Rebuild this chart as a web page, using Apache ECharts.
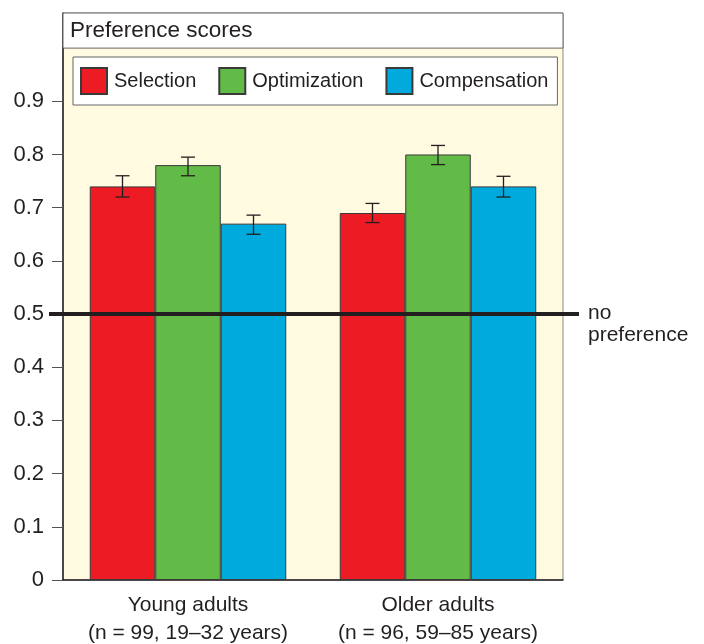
<!DOCTYPE html>
<html>
<head>
<meta charset="utf-8">
<script src="https://cdn.jsdelivr.net/npm/echarts@6/dist/echarts.min.js"></script>
<style>
  html, body { margin: 0; padding: 0; background: #fff; }
  #chart { width: 704px; height: 644px; }
</style>
</head>
<body>
<div id="chart"></div>
<script>
const categories = ['Young adults\n(n = 99, 19–32 years)', 'Older adults\n(n = 96, 59–85 years)'];
const seriesNames = ['Selection', 'Optimization', 'Compensation'];
const colors = ['#ed1c24', '#62bb46', '#00aadc'];
const selection = [0.74, 0.69];
const optimization = [0.78, 0.80];
const compensation = [0.67, 0.74];
// error bars: [low, high] per category
const selectionErr = [[0.72, 0.76], [0.672, 0.708]];
const optimizationErr = [[0.76, 0.795], [0.781, 0.817]];
const compensationErr = [[0.65, 0.686], [0.72, 0.759]];
const yTicks = [0, 0.1, 0.2, 0.3, 0.4, 0.5, 0.6, 0.7, 0.8, 0.9];
const yMax = 1.066;
const headerBottom = 1.0;
const noPreference = 0.5;

const font = 'Liberation Sans, Arial, sans-serif';
const gapPct = 0.214;

let chart = echarts.init(document.getElementById('chart'));

const allValues = [selection, optimization, compensation];
const allErr = [selectionErr, optimizationErr, compensationErr];
let errData = [];
allErr.forEach((arr, s) => {
    arr.forEach((e, c) => errData.push([c, s, e[0], e[1]]));
});

let barSeries = seriesNames.map((name, i) => ({
    name: name,
    type: 'bar',
    data: allValues[i],
    barGap: 0,
    barCategoryGap: (gapPct * 100) + '%',
    itemStyle: { color: colors[i], borderColor: '#3a3a3a', borderWidth: 1 }
}));

// header band "Preference scores"
barSeries[0].markArea = {
    silent: true,
    itemStyle: { color: '#fff', borderColor: '#666', borderWidth: 1 },
    data: [[{ yAxis: headerBottom }, { yAxis: yMax }]]
};

let option = {
    animation: false,
    textStyle: { fontFamily: font },
    title: {
        text: 'Preference scores',
        left: 70,
        top: 19,
        padding: 0,
        textStyle: { fontFamily: font, fontSize: 22.5, fontWeight: 'normal', color: '#231f20' }
    },
    legend: {
        data: seriesNames,
        left: 73,
        top: 57,
        padding: [10, 9, 10, 7],
        itemWidth: 26,
        itemHeight: 26,
        itemGap: 22,
        backgroundColor: '#fff',
        borderColor: '#666',
        borderWidth: 1,
        icon: 'rect',
        textStyle: { fontFamily: font, fontSize: 20, color: '#231f20', padding: [0, 0, 0, 2] }
    },
    grid: {
        left: 63,
        right: 141,
        top: 13,
        bottom: 64,
        outerBoundsMode: 'none',
        containLabel: false,
        show: true,
        backgroundColor: '#fffae0',
        borderColor: '#888',
        borderWidth: 1
    },
    xAxis: {
        type: 'category',
        data: categories,
        axisLine: { lineStyle: { color: '#231f20', width: 1.5 } },
        axisTick: { length: 12, lineStyle: { color: '#555' } },
        axisLabel: {
            interval: 0,
            margin: 11,
            fontFamily: font,
            fontSize: 21,
            lineHeight: 28,
            color: '#231f20'
        }
    },
    yAxis: {
        type: 'value',
        min: 0,
        max: yMax,
        interval: 0.1,
        splitLine: { show: false },
        axisLine: { show: true, lineStyle: { color: '#231f20', width: 1.5 } },
        axisTick: { show: true, length: 11, customValues: yTicks, lineStyle: { color: '#555' } },
        axisLabel: {
            customValues: yTicks,
            margin: 19,
            fontFamily: font,
            fontSize: 22,
            color: '#231f20',
            formatter: v => (v === 0 ? '0' : v.toFixed(1))
        }
    },
    series: barSeries.concat([{
        type: 'custom',
        name: 'err',
        clip: false,
        z: 5,
        data: errData,
        encode: { x: 0, y: [2, 3] },
        renderItem: (params, api) => {
            const c = api.value(0);
            const s = api.value(1);
            const band = api.size([1, 0])[0];
            const bw = band * (1 - gapPct) / 3;
            const hi = api.coord([c, api.value(3)]);
            const lo = api.coord([c, api.value(2)]);
            const x = hi[0] + (s - 1) * bw;
            const cap = 7;
            const style = { stroke: '#231f20', lineWidth: 1.3 };
            return {
                type: 'group',
                children: [
                    { type: 'line', shape: { x1: x, y1: hi[1], x2: x, y2: lo[1] }, style: style },
                    { type: 'line', shape: { x1: x - cap, y1: hi[1], x2: x + cap, y2: hi[1] }, style: style },
                    { type: 'line', shape: { x1: x - cap, y1: lo[1], x2: x + cap, y2: lo[1] }, style: style }
                ]
            };
        },
        markLine: {
            silent: true,
            symbol: 'none',
            lineStyle: { color: '#231f20', width: 4, type: 'solid' },
            label: {
                show: true,
                position: 'end',
                distance: 9,
                formatter: 'no\npreference',
                fontFamily: font,
                fontSize: 21,
                lineHeight: 22,
                color: '#231f20',
                verticalAlign: 'top',
                padding: [-12, 0, 0, 0]
            },
            data: [[{ x: 49, yAxis: noPreference }, { x: 579, yAxis: noPreference }]]
        }
    }])
};

option && chart.setOption(option);
</script>
</body>
</html>
